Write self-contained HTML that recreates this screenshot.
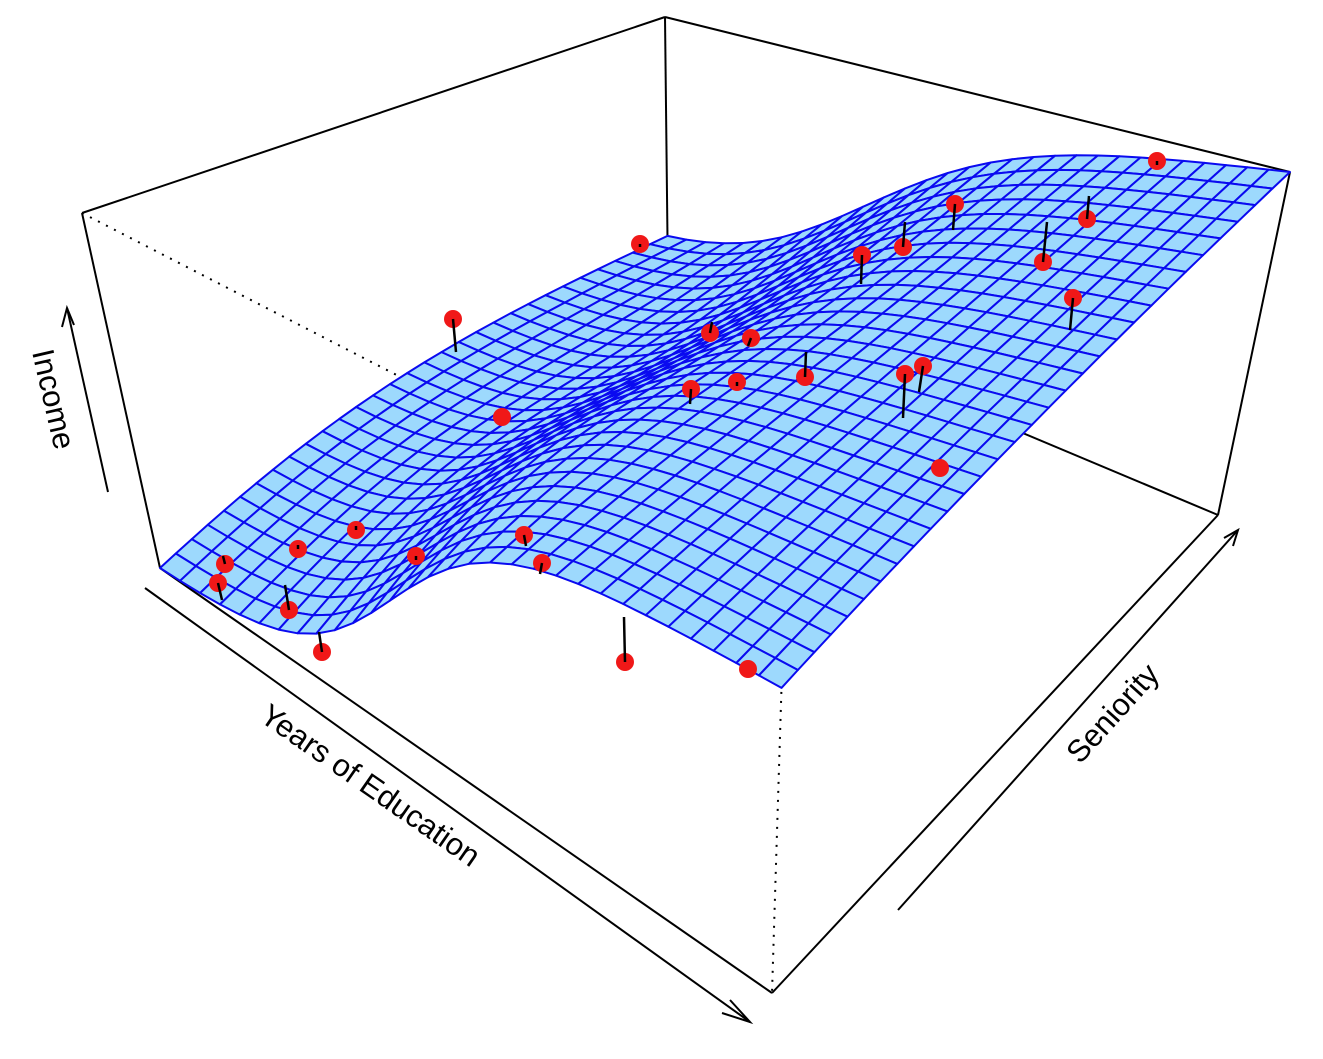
<!DOCTYPE html>
<html><head><meta charset="utf-8"><style>
html,body{margin:0;padding:0;background:#fff;}
svg{display:block;}
text{font-family:"Liberation Sans",sans-serif;font-size:31px;fill:#000;}
</style></head><body>
<svg id="s" width="1323" height="1059" viewBox="0 0 1323 1059" xmlns="http://www.w3.org/2000/svg">
<g id="back" stroke="#000" stroke-width="2" fill="none">
<line x1="82" y1="213" x2="665" y2="17"/>
<line x1="665" y1="17" x2="1290" y2="172"/>
<line x1="665" y1="17" x2="668" y2="284"/>
<line x1="82" y1="213" x2="160" y2="568"/>
<line x1="1290" y1="172" x2="1218" y2="515"/>
<line x1="668" y1="284" x2="1218" y2="515"/>
<line x1="160" y1="568" x2="772" y2="993"/>
<line x1="772" y1="993" x2="1218" y2="515"/>
<g stroke-dasharray="2,7" stroke-width="2">
<line x1="82" y1="213" x2="785" y2="575"/>
<line x1="1290" y1="172" x2="785" y2="575"/>
<line x1="785" y1="575" x2="772" y2="993"/>
</g>
</g>
<g id="surf"></g>
<g id="pts"></g>
<g stroke="#000" stroke-width="2" fill="none">
<line x1="145" y1="588" x2="750" y2="1022"/>
<polyline points="730,1000 750,1022 722,1013"/>
<line x1="898" y1="910" x2="1238" y2="530"/>
<polyline points="1224,538 1238,530 1233,546"/>
<line x1="108" y1="492" x2="67" y2="308"/>
<polyline points="62,327 67,308 74,325"/>
</g>
<text transform="translate(32,352) rotate(77)">Income</text>
<text transform="translate(258,720) rotate(34.8)">Years of Education</text>
<text transform="translate(1080,765) rotate(-48)">Seniority</text>
</svg>
<script>
var Lb=[160,568],Fb=[772,993],Rb=[1218,515],Bb=[668,284];
var Lv=[-78,-355],Fv=[13,-418],Rv=[72,-343],Bv=[-3,-267];
function bil(a,b,c,d,u,v){
 return [a[0]*(1-u)*(1-v)+b[0]*u*(1-v)+c[0]*u*v+d[0]*(1-u)*v,
         a[1]*(1-u)*(1-v)+b[1]*u*(1-v)+c[1]*u*v+d[1]*(1-u)*v];}
function lg(u,c,w){return 1/(1+Math.exp(-(u-c)/w));}
function S(u,v){var c=0.40-0.09*v,w=0.09+0.03*v;var a=lg(0,c,w),b=lg(1,c,w);return (lg(u,c,w)-a)/(b-a);}
function Z(u,v){var s=S(u,v);
 return s*(0.73+0.27*v)*(1-0.22*v*(1-u))+0.18*v*(1-s)+0.08*Math.sin(Math.PI*v)*(1-s)
  +0.05*Math.sin(2*Math.PI*v)*4*s*(1-s)-0.03*Math.sin(Math.PI*u)*Math.sin(Math.PI*v);}
function P(u,v){var b=bil(Lb,Fb,Rb,Bb,u,v),w=bil(Lv,Fv,Rv,Bv,u,v),z=Z(u,v);return [b[0]+z*w[0],b[1]+z*w[1]];}
var N=30,cells=[];
for(var i=0;i<N;i++)for(var j=0;j<N;j++)cells.push([i,j]);
cells.sort(function(a,b){return (b[1]-b[0])-(a[1]-a[0]);});
var h='';
cells.forEach(function(c){var u0=c[0]/N,u1=(c[0]+1)/N,v0=c[1]/N,v1=(c[1]+1)/N;
 var p=[P(u0,v0),P(u1,v0),P(u1,v1),P(u0,v1)];
 h+='<polygon points="'+p.map(function(q){return q[0].toFixed(1)+','+q[1].toFixed(1)}).join(' ')+'"/>';});
var g=document.getElementById('surf');
g.setAttribute('fill','#9dd9fd');g.setAttribute('stroke','#0a0af0');g.setAttribute('stroke-width','2');g.setAttribute('stroke-linejoin','round');
g.innerHTML=h;
var pts=[[225,564,223,556],[218,583,222,600],[289,610,285,585],[322,652,319,632],[298,549,298,545],[356,530,356,526],[416,556,416,560],[524,535,526,546],[542,563,540,574],[625,662,624,617],[748,669,748,669],[453,319,456,352],[502,417,502,417],[640,244,640,247],[710,333,712,322],[751,338,748,346],[691,389,690,404],[737,382,737,386],[805,377,806,352],[905,374,903,418],[923,366,919,392],[940,468,940,468],[862,255,861,284],[903,247,905,222],[955,204,953,230],[1043,262,1047,222],[1087,219,1089,196],[1073,298,1070,330],[1157,161,1157,165]];
var s='';
pts.forEach(function(p){s+='<circle cx="'+p[0]+'" cy="'+p[1]+'" r="9" fill="#f01818"/><line x1="'+p[0]+'" y1="'+p[1]+'" x2="'+p[2]+'" y2="'+p[3]+'" stroke="#000" stroke-width="2.5"/>';});
document.getElementById('pts').innerHTML=s;
</script>
</body></html>
